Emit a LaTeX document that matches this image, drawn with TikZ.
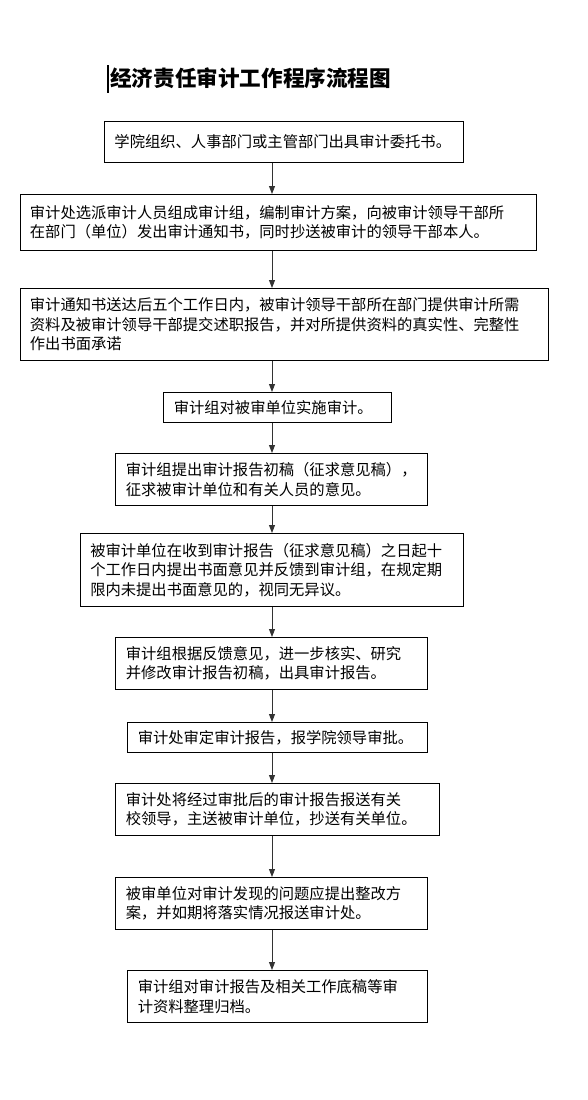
\documentclass[tikz,border=0pt]{standalone}
\usepackage{fontspec}
\setmainfont{Noto Sans CJK SC}
\usetikzlibrary{arrows.meta}
\tikzset{
  stepbox/.style={draw=black, line width=0.9pt, anchor=north west, align=left,
    inner xsep=10pt, inner ysep=0pt, font=\fontsize{15.3}{19.5}\selectfont},
  flowarrow/.style={draw=black!80, line width=0.9pt, -{Triangle[length=8pt,width=6pt]}}
}
\def\flowbox(#1)(#2,#3)(#4,#5)#6{%
  \pgfmathsetmacro\boxtw{#4-20}%
  \node[stepbox, minimum width=#4pt, minimum height=#5pt, text width=\boxtw pt] (#1) at (#2,#3) {#6};}

\begin{document}
\begin{tikzpicture}[x=1pt, y=-1pt]
			%%%%% START %%%%%
			
			\useasboundingbox (0, 0) rectangle (587, 1100);
			\coordinate (axis) at (272, 0);
			
			\node[anchor=west, inner sep=0pt, font=\fontsize{21.6}{24}\selectfont\bfseries] (title) at (110, 78) {经济责任审计工作程序流程图};
			\draw[line width=1.5pt] (108, 65) -- (108, 93);
			
			\flowbox(entrust)(104, 121)(359, 41){学院组织、人事部门或主管部门出具审计委托书。}
			\flowbox(notice)(19.5, 194)(516, 56){审计处选派审计人员组成审计组，编制审计方案，向被审计领导干部所\\在部门（单位）发出审计通知书，同时抄送被审计的领导干部本人。}
			\flowbox(material)(19.5, 288)(528, 72){审计通知书送达后五个工作日内，被审计领导干部所在部门提供审计所需\\资料及被审计领导干部提交述职报告，并对所提供资料的真实性、完整性\\作出书面承诺}
			\flowbox(audit)(163.3, 392)(228, 30){审计组对被审单位实施审计。}
			\flowbox(draft)(115.4, 453)(312, 52){审计组提出审计报告初稿（征求意见稿），\\征求被审计单位和有关人员的意见。}
			\flowbox(feedback)(79.8, 533)(383.5, 73){被审计单位在收到审计报告（征求意见稿）之日起十\\个工作日内提出书面意见并反馈到审计组，在规定期\\限内未提出书面意见的，视同无异议。}
			\flowbox(revise)(115.4, 637)(312, 52){审计组根据反馈意见，进一步核实、研究\\并修改审计报告初稿，出具审计报告。}
			\flowbox(approve)(127.3, 722)(300, 30){审计处审定审计报告，报学院领导审批。}
			\flowbox(send)(115.4, 783)(324, 52){审计处将经过审批后的审计报告报送有关\\校领导，主送被审计单位，抄送有关单位。}
			\flowbox(rectify)(115.4, 877)(312, 52){被审单位对审计发现的问题应提出整改方\\案，并如期将落实情况报送审计处。}
			\flowbox(archive)(127.3, 970)(300, 52){审计组对审计报告及相关工作底稿等审\\计资料整理归档。}
			
			\draw[flowarrow] (axis |- entrust.south) -- (axis |- notice.north);
			\draw[flowarrow] (axis |- notice.south) -- (axis |- material.north);
			\draw[flowarrow] (axis |- material.south) -- (axis |- audit.north);
			\draw[flowarrow] (axis |- audit.south) -- (axis |- draft.north);
			\draw[flowarrow] (axis |- draft.south) -- (axis |- feedback.north);
			\draw[flowarrow] (axis |- feedback.south) -- (axis |- revise.north);
			\draw[flowarrow] (axis |- revise.south) -- (axis |- approve.north);
			\draw[flowarrow] (axis |- approve.south) -- (axis |- send.north);
			\draw[flowarrow] (axis |- send.south) -- (axis |- rectify.north);
			\draw[flowarrow] (axis |- rectify.south) -- (axis |- archive.north);
			
			%%%%% END %%%%%
\end{tikzpicture}
\end{document}
